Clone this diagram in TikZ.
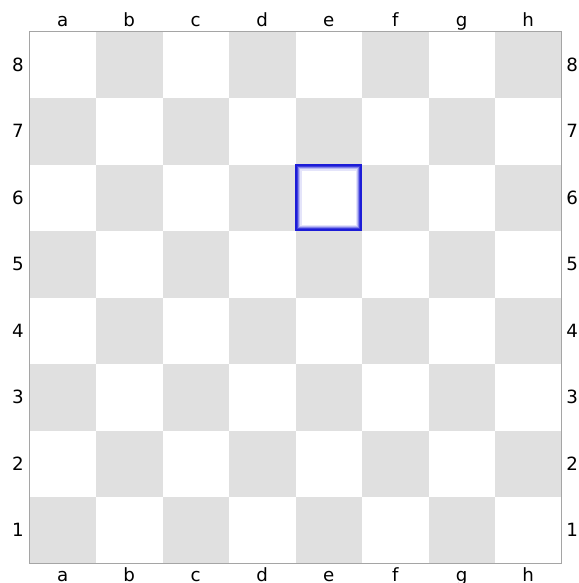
\documentclass[tikz,border=0pt]{standalone}
\usepackage{fontspec}
\setmainfont{DejaVu Sans}
\usepackage{xcolor}
\usepackage{tikz}
\usetikzlibrary{calc}
\definecolor{BoardGray}{RGB}{224,224,224}
\definecolor{EdgeGray}{RGB}{165,165,165}
\definecolor{MarkBlue}{RGB}{28,28,215}

\begin{document}
\begin{tikzpicture}[x=1cm,y=1cm,every node/.style={font=\fontsize{7.8}{9}\selectfont}]
\tikzset{darksq/.style={fill=BoardGray},filelbl/.style={anchor=base,inner sep=0pt},ranklbl/.style={inner sep=0pt}}
\useasboundingbox (-0.4436,-0.293) rectangle (8.248,8.474);
\fill[white] (-0.4436,-0.293) rectangle (8.248,8.474);
% squares
\foreach \f in {0,...,7}
  \foreach \r in {0,...,7}
  {\pgfmathtruncatemacro\sqodd{mod(\f+\r,2)}
   \ifnum\sqodd=0 \fill[darksq] (\f,\r) rectangle ++(1,1);\fi}
\draw[EdgeGray,line width=0.6pt] (0,0) rectangle (8,8);
% marked square e6
\fill[white] (4,5) rectangle (5,6);
\foreach \i/\c in {0/100,1/100,2/85,3/55,4/30,5/12}
  \draw[MarkBlue!\c,line width=0.45pt] ($(4,5)+(\i/66.5+0.5/66.5,\i/66.5+0.5/66.5)$) rectangle ($(5,6)-(\i/66.5+0.5/66.5,\i/66.5+0.5/66.5)$);
% coordinates
\foreach \l [count=\k from 0] in {a,b,c,d,e,f,g,h}
{\node[filelbl] (top-\l) at (\k+0.5,8.072) {\l};
 \node[filelbl] (bot-\l) at (\k+0.5,-0.263) {\l};}
\foreach \r in {1,...,8}
{\node[ranklbl,anchor=east] (left-\r) at (-0.078,\r-0.5) {\r};
 \node[ranklbl,anchor=west] (right-\r) at (8.068,\r-0.5) {\r};}
\end{tikzpicture}
\end{document}
